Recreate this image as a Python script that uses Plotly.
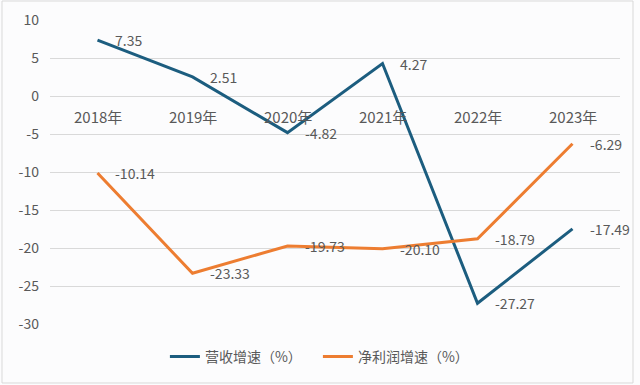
import plotly.graph_objects as go

years = ["2018年", "2019年", "2020年", "2021年", "2022年", "2023年"]
revenue_growth = [7.35, 2.51, -4.82, 4.27, -27.27, -17.49]
profit_growth = [-10.14, -23.33, -19.73, -20.10, -18.79, -6.29]
y_ticks = [10, 5, 0, -5, -10, -15, -20, -25, -30]

FONT = "Noto Sans CJK SC, Microsoft YaHei, sans-serif"
TXT = "#595959"

fig = go.Figure()
fig.add_trace(go.Scatter(
    x=years, y=revenue_growth, mode="lines", name="营收增速（%）",
    line=dict(color="#1c5d7f", width=3),
))
fig.add_trace(go.Scatter(
    x=years, y=profit_growth, mode="lines", name="净利润增速（%）",
    line=dict(color="#ed7d31", width=3),
))

for series in (revenue_growth, profit_growth):
    for yr, v in zip(years, series):
        fig.add_annotation(x=yr, y=v, xref="x", yref="y", text=f"{v:.2f}",
                           showarrow=False, xanchor="left", yanchor="middle",
                           xshift=15, font=dict(size=14, color=TXT, family=FONT))

for yr in years:
    fig.add_annotation(x=yr, y=0, xref="x", yref="y", text=yr, showarrow=False,
                       yanchor="top", yshift=-8,
                       font=dict(size=15, color=TXT, family=FONT))

fig.add_shape(type="rect", xref="paper", yref="paper",
              x0=-0.0842, x1=1.0228, y0=-0.194, y1=1.0625,
              line=dict(color="#d9d9d9", width=1), layer="below")

fig.update_layout(
    width=640, height=385,
    margin=dict(l=50, r=20, t=20, b=61, autoexpand=False),
    paper_bgcolor="#fcfcfd", plot_bgcolor="#fcfcfd",
    font=dict(family=FONT, size=14, color=TXT),
    showlegend=True,
    legend=dict(orientation="h", x=0.47, xanchor="center",
                yref="container", y=0.073, yanchor="middle",
                font=dict(size=14, color=TXT, family=FONT),
                entrywidth=108, entrywidthmode="pixels",
                bgcolor="rgba(0,0,0,0)"),
    xaxis=dict(type="category", range=[-0.5, 5.5], showticklabels=False,
               showgrid=False, zeroline=False, showline=False, ticks=""),
    yaxis=dict(range=[-30, 10], tickvals=y_ticks, ticktext=[str(v) for v in y_ticks],
               showgrid=True, gridcolor="#d9d9d9", gridwidth=1, zeroline=False,
               showline=False, ticks="", ticklabelstandoff=10, automargin=False,
               tickfont=dict(size=14, color=TXT, family=FONT)),
)

fig.write_html("out.html", config={"displayModeBar": False},
               post_script="document.body.style.margin='0';document.body.style.overflow='hidden';")
